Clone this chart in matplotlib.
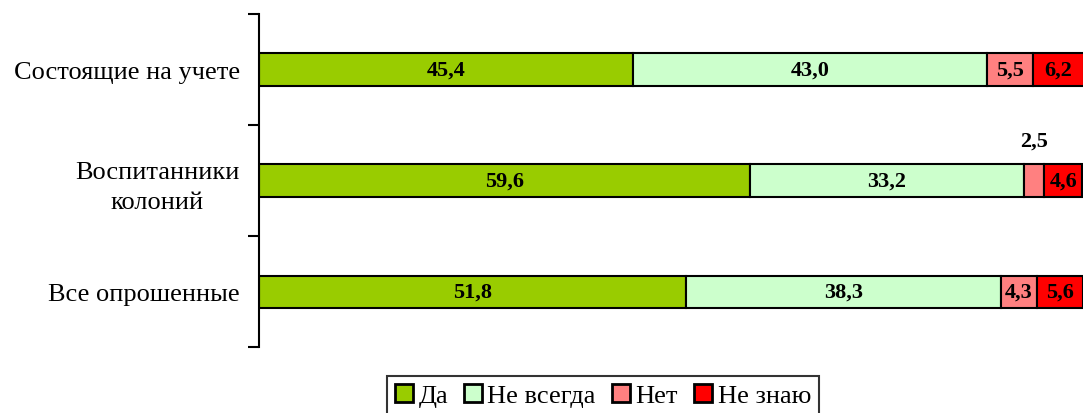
import matplotlib.pyplot as plt
import numpy as np

plt.rcParams['font.family'] = ['Liberation Serif', 'DejaVu Serif']

categories = ['Все опрошенные', 'Воспитанники\nколоний', 'Состоящие на учете']
series_names = ['Да', 'Не всегда', 'Нет', 'Не знаю']
da = [51.8, 59.6, 45.4]
ne_vsegda = [38.3, 33.2, 43.0]
net = [4.3, 2.5, 5.5]
ne_znayu = [5.6, 4.6, 6.2]
colors = ['#99CC00', '#CCFFCC', '#FF8080', '#FF0000']

series = [da, ne_vsegda, net, ne_znayu]
serif = ['Liberation Serif', 'DejaVu Serif']

fig = plt.figure(figsize=(10.84, 4.14), dpi=100)
ax = fig.add_axes([0.239, 0.159, 0.76, 0.805])

y = np.arange(len(categories))
left = np.zeros(len(categories))
for name, vals, c in zip(series_names, series, colors):
    vals = np.array(vals)
    ax.barh(y, vals, left=left, height=0.29, color=c, edgecolor='black',
            linewidth=1.5, label=name)
    for yi, (l, v) in enumerate(zip(left, vals)):
        txt = f'{v:.1f}'.replace('.', ',')
        if v < 3:
            # too narrow, put the label above the bar
            ax.text(l + v / 2, yi + 0.36, txt, ha='center', va='center',
                    fontsize=16, fontweight='bold', family=serif)
        else:
            ax.text(l + v / 2, yi, txt, ha='center', va='center',
                    fontsize=16, fontweight='bold', family=serif)
    left = left + vals

ax.set_xlim(0, 100)
ax.set_ylim(-0.5, 2.5)
ax.set_yticks([-0.5, 0.5, 1.5, 2.5])
ax.set_yticklabels([])
ax.set_yticks(y, minor=True)
ax.set_yticklabels(categories, minor=True, fontsize=19, family=serif,
                   multialignment='center', linespacing=1.45)
ax.tick_params(axis='y', which='major', length=8, width=1.5, direction='out')
ax.tick_params(axis='y', which='minor', length=0, pad=14)
ax.set_xticks([])
for s in ['top', 'right', 'bottom']:
    ax.spines[s].set_visible(False)
ax.spines['left'].set_linewidth(1.5)

leg = fig.legend(loc='lower center', bbox_to_anchor=(0.556, -0.005), ncol=4,
                 prop={'family': serif, 'size': 19}, frameon=True,
                 fancybox=False, edgecolor='black',
                 handlelength=0.7, handleheight=0.7, handletextpad=0.2,
                 columnspacing=0.6, borderpad=0.3, borderaxespad=0.0)
leg.get_frame().set_linewidth(1.5)
for h in leg.legend_handles:
    h.set_linewidth(2)

fig.savefig('out.png', dpi=100)
